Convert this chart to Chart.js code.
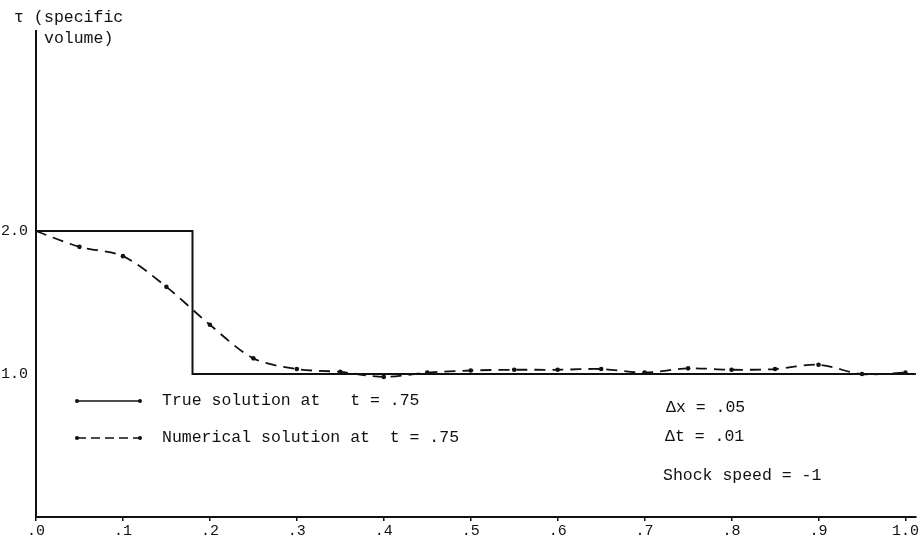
<!DOCTYPE html>
<html>
<head>
<meta charset="utf-8">
<script src="https://cdn.jsdelivr.net/npm/chart.js@4.4.1/dist/chart.umd.min.js"></script>
<style>
  html, body { margin: 0; padding: 0; background: #fff; }
  #wrap { width: 920px; height: 543px; }
</style>
</head>
<body>
<div id="wrap"><canvas id="myChart" width="920" height="543"></canvas></div>
<script>
// ─── données ───
const trueX = [0, 0.18, 0.18, 1.012];
const trueY = [2.0, 2.0, 1.0, 1.0];

const numX = [0, 0.05, 0.10, 0.15, 0.20, 0.25, 0.30, 0.35, 0.40, 0.45, 0.50,
              0.55, 0.60, 0.65, 0.70, 0.75, 0.80, 0.85, 0.90, 0.95, 1.00];
const numY = [2.0, 1.89, 1.825, 1.61, 1.345, 1.11, 1.035, 1.015, 0.98, 1.01, 1.025,
              1.03, 1.03, 1.035, 1.01, 1.04, 1.03, 1.035, 1.065, 1.0, 1.01];

const xTicks = [0, 0.1, 0.2, 0.3, 0.4, 0.5, 0.6, 0.7, 0.8, 0.9, 1.0];
const xTickLabels = ['.0', '.1', '.2', '.3', '.4', '.5', '.6', '.7', '.8', '.9', '1.0'];
const yTicks = [1.0, 2.0];
const yTickLabels = ['1.0', '2.0'];

const FONT = 'Liberation Mono, DejaVu Sans Mono, monospace';
const INK = '#111';

// textes libres (titre de l'axe, légende, paramètres)
const annotations = {
  id: 'annotations',
  afterDraw(chart) {
    const c = chart.ctx;
    c.save();
    c.fillStyle = INK;
    c.strokeStyle = INK;
    c.textBaseline = 'middle';
    c.font = '16.5px ' + FONT;

    // titre de l'axe y
    c.fillText('τ (', 14, 18);
    c.fillText('specific', 44, 18);
    c.fillText('volume)', 44, 39);

    // légende
    c.lineWidth = 1.5;
    c.setLineDash([]);
    c.beginPath(); c.moveTo(77, 401); c.lineTo(140, 401); c.stroke();
    c.setLineDash([9, 5]);
    c.beginPath(); c.moveTo(77, 438); c.lineTo(140, 438); c.stroke();
    c.setLineDash([]);
    [[77, 401], [140, 401], [77, 438], [140, 438]].forEach(([px, py]) => {
      c.beginPath(); c.arc(px, py, 2, 0, Math.PI * 2); c.fill();
    });
    c.fillText('True solution at   t = .75', 162, 401);
    c.fillText('Numerical solution at  t = .75', 162, 438);

    // paramètres
    c.fillText('Δx = .05', 666, 408);
    c.fillText('Δt = .01', 665, 437);
    c.fillText('Shock speed = -1', 663, 476);
    c.restore();
  }
};

const ctx = document.getElementById('myChart').getContext('2d');

new Chart(ctx, {
  type: 'line',
  data: {
    datasets: [
      {
        label: 'True solution at t = .75',
        data: trueX.map((x, i) => ({ x, y: trueY[i] })),
        borderColor: INK,
        borderWidth: 2,
        pointRadius: 0,
        tension: 0,
        fill: false
      },
      {
        label: 'Numerical solution at t = .75',
        data: numX.map((x, i) => ({ x, y: numY[i] })),
        borderColor: INK,
        backgroundColor: INK,
        borderWidth: 1.8,
        borderDash: [11, 7],
        pointRadius: c => (c.dataIndex === 0 ? 0 : 2.3),
        pointBorderWidth: 0,
        tension: 0.3,
        fill: false
      }
    ]
  },
  options: {
    responsive: false,
    animation: false,
    layout: { padding: { top: 31, right: 1, left: 0, bottom: 0 } },
    plugins: {
      legend: { display: false },
      tooltip: { enabled: false }
    },
    scales: {
      x: {
        type: 'linear',
        min: 0,
        max: 1.012,
        afterBuildTicks: s => { s.ticks = xTicks.map(v => ({ value: v })); },
        afterFit: s => { s.height = 26; },
        ticks: {
          color: INK,
          font: { family: FONT, size: 15 },
          padding: 1,
          maxRotation: 0,
          autoSkip: false,
          callback: (v, i) => xTickLabels[i]
        },
        grid: { drawOnChartArea: false, drawTicks: true, tickLength: 4, color: INK, lineWidth: 1.5 },
        border: { display: true, color: INK, width: 2 }
      },
      y: {
        type: 'linear',
        min: 0,
        max: 3.4,
        afterBuildTicks: s => { s.ticks = yTicks.map(v => ({ value: v })); },
        afterFit: s => { s.width = 36; },
        ticks: {
          color: INK,
          font: { family: FONT, size: 15 },
          padding: 0,
          callback: (v, i) => yTickLabels[i]
        },
        grid: { display: false },
        border: { display: true, color: INK, width: 2 }
      }
    }
  },
  plugins: [annotations]
});
</script>
</body>
</html>
